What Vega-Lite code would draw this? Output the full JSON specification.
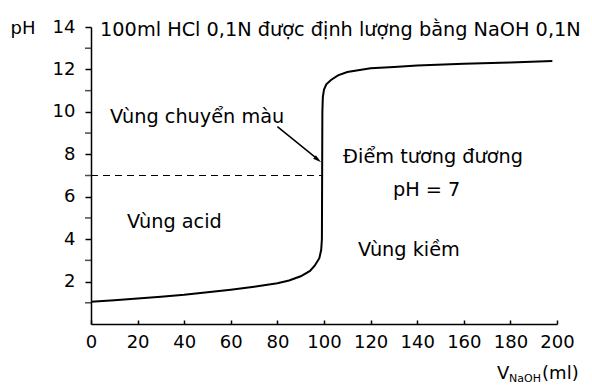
{
  "$schema": "https://vega.github.io/schema/vega-lite/v6.json",
  "width": 466,
  "height": 297,
  "autosize": {"type": "none"},
  "padding": {"left": 91, "top": 27, "right": 35, "bottom": 61},
  "background": "white",
  "config": {
    "view": {"stroke": null},
    "font": "DejaVu Sans",
    "axis": {"domainColor": "black", "tickColor": "black", "labelColor": "black", "titleColor": "black", "grid": false, "labelFont": "DejaVu Sans", "titleFont": "DejaVu Sans", "labelOverlap": false, "labelFlush": false}
  },
  "datasets": {
    "curve": [
      {"i": 1, "v": 0, "ph": 1.05},
      {"i": 2, "v": 10, "ph": 1.12},
      {"i": 3, "v": 20, "ph": 1.2},
      {"i": 4, "v": 30, "ph": 1.29},
      {"i": 5, "v": 40, "ph": 1.38},
      {"i": 6, "v": 50, "ph": 1.5},
      {"i": 7, "v": 60, "ph": 1.62},
      {"i": 8, "v": 70, "ph": 1.76},
      {"i": 9, "v": 80, "ph": 1.92},
      {"i": 10, "v": 85, "ph": 2.05},
      {"i": 11, "v": 90, "ph": 2.25},
      {"i": 12, "v": 94, "ph": 2.5},
      {"i": 13, "v": 96, "ph": 2.75},
      {"i": 14, "v": 98, "ph": 3.1},
      {"i": 15, "v": 98.8, "ph": 3.5},
      {"i": 16, "v": 99.1, "ph": 4.0},
      {"i": 17, "v": 99.2, "ph": 7.0},
      {"i": 18, "v": 99.3, "ph": 10.0},
      {"i": 19, "v": 99.5, "ph": 10.7},
      {"i": 20, "v": 100, "ph": 11.05},
      {"i": 21, "v": 101, "ph": 11.3},
      {"i": 22, "v": 103, "ph": 11.5},
      {"i": 23, "v": 106, "ph": 11.72},
      {"i": 24, "v": 110, "ph": 11.88},
      {"i": 25, "v": 120, "ph": 12.05},
      {"i": 26, "v": 130, "ph": 12.12},
      {"i": 27, "v": 140, "ph": 12.18},
      {"i": 28, "v": 160, "ph": 12.27},
      {"i": 29, "v": 180, "ph": 12.33},
      {"i": 30, "v": 198, "ph": 12.4}
    ],
    "labels": [
      {"label": "Vùng chuyển màu", "v": 8.2, "ph": 9.76},
      {"label": "Vùng acid", "v": 15.5, "ph": 4.8},
      {"label": "Vùng kiềm", "v": 114.6, "ph": 3.5},
      {"label": "Điểm tương đương", "v": 108.2, "ph": 7.85},
      {"label": "pH = 7", "v": 129.6, "ph": 6.3},
      {"label": "100ml HCl 0,1N được định lượng bằng NaOH 0,1N", "v": 3.9, "ph": 13.87}
    ],
    "minor": [
      {"v": 0, "ph": 1}, {"v": 0, "ph": 3}, {"v": 0, "ph": 5}, {"v": 0, "ph": 7},
      {"v": 0, "ph": 9}, {"v": 0, "ph": 11}, {"v": 0, "ph": 13}
    ]
  },
  "layer": [
    {
      "data": {"name": "curve"},
      "mark": {"type": "line", "color": "black", "strokeWidth": 2, "clip": false},
      "encoding": {
        "x": {"field": "v", "type": "quantitative", "scale": {"domain": [0, 200], "nice": false},
          "axis": {"values": [0, 20, 40, 60, 80, 100, 120, 140, 160, 180, 200], "title": null, "labelFontSize": 18, "tickSize": -4, "labelPadding": 13, "domainWidth": 1.5, "tickWidth": 1.5}},
        "y": {"field": "ph", "type": "quantitative", "scale": {"domain": [0, 14], "nice": false},
          "axis": {"values": [2, 4, 6, 8, 10, 12, 14], "labelFontSize": 18, "tickSize": 6, "labelPadding": 10, "domainWidth": 1.5, "tickWidth": 1.5,
            "title": "pH", "titleAngle": 0, "titleAlign": "left", "titleBaseline": "middle", "titleX": -81, "titleY": 1, "titleFontSize": 18, "titleFontWeight": "normal"}},
        "order": {"field": "i", "type": "quantitative"}
      }
    },
    {
      "data": {"name": "minor"},
      "mark": {"type": "tick", "orient": "horizontal", "color": "black", "size": 6, "thickness": 1.5, "xOffset": -3},
      "encoding": {
        "x": {"field": "v", "type": "quantitative"},
        "y": {"field": "ph", "type": "quantitative"}
      }
    },
    {
      "data": {"values": [{"v0": 0, "v1": 99.2, "ph": 7}]},
      "mark": {"type": "rule", "color": "black", "strokeWidth": 1.2, "strokeDash": [7, 5]},
      "encoding": {
        "x": {"field": "v0", "type": "quantitative"},
        "x2": {"field": "v1"},
        "y": {"field": "ph", "type": "quantitative"}
      }
    },
    {
      "data": {"values": [{"v0": 80, "p0": 9.3, "v1": 97.5, "p1": 7.75}]},
      "mark": {"type": "rule", "color": "black", "strokeWidth": 1.5},
      "encoding": {
        "x": {"field": "v0", "type": "quantitative"},
        "x2": {"field": "v1"},
        "y": {"field": "p0", "type": "quantitative"},
        "y2": {"field": "p1"}
      }
    },
    {
      "data": {"values": [{"v": 97.2, "ph": 7.76}]},
      "mark": {"type": "point", "shape": "M0,-1L0.45,0.8L-0.45,0.8Z", "filled": true, "color": "black", "opacity": 1, "size": 90, "angle": 129},
      "encoding": {
        "x": {"field": "v", "type": "quantitative"},
        "y": {"field": "ph", "type": "quantitative"}
      }
    },
    {
      "data": {"name": "labels"},
      "mark": {"type": "text", "align": "left", "baseline": "middle", "fontSize": 19.3, "color": "black"},
      "encoding": {
        "x": {"field": "v", "type": "quantitative"},
        "y": {"field": "ph", "type": "quantitative"},
        "text": {"field": "label"}
      }
    },
    {
      "data": {"values": [{"t": "V", "v": 174.2, "ph": -2.38}, {"t": "(ml)", "v": 193.6, "ph": -2.38}]},
      "mark": {"type": "text", "align": "left", "baseline": "middle", "fontSize": 18, "color": "black"},
      "encoding": {
        "x": {"field": "v", "type": "quantitative"},
        "y": {"field": "ph", "type": "quantitative"},
        "text": {"field": "t"}
      }
    },
    {
      "data": {"values": [{"t": "NaOH", "v": 179.4, "ph": -2.58}]},
      "mark": {"type": "text", "align": "left", "baseline": "middle", "fontSize": 11, "color": "black"},
      "encoding": {
        "x": {"field": "v", "type": "quantitative"},
        "y": {"field": "ph", "type": "quantitative"},
        "text": {"field": "t"}
      }
    }
  ]
}
